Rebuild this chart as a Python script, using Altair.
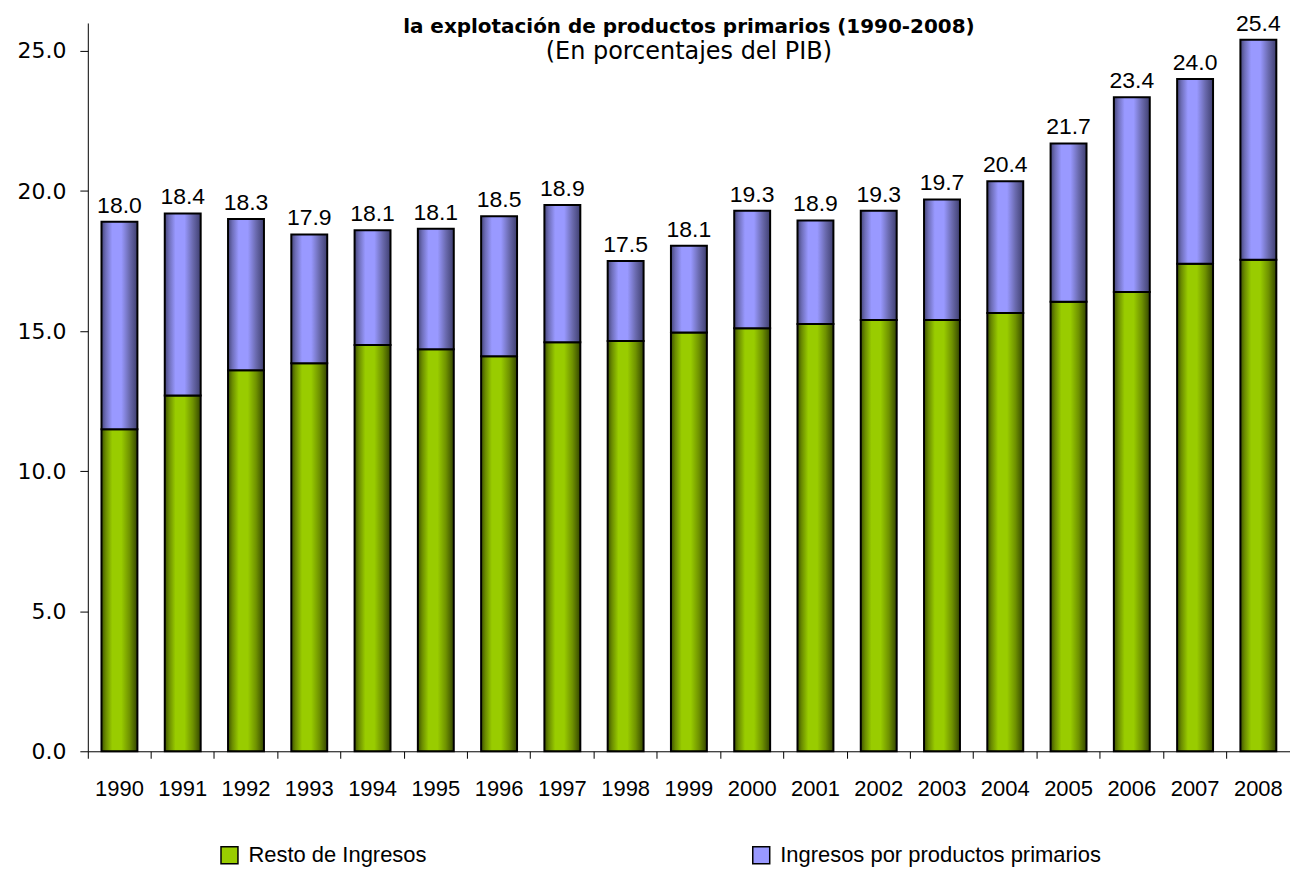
import altair as alt
import pandas as pd

years = [str(y) for y in range(1990, 2009)]
resto = [11.5, 12.7, 13.6, 13.85, 14.5, 14.35, 14.1, 14.6, 14.65, 14.95,
         15.1, 15.25, 15.4, 15.4, 15.65, 16.05, 16.4, 17.4, 17.55]
primarios = [7.4, 6.5, 5.4, 4.6, 4.1, 4.3, 5.0, 4.9, 2.85, 3.1,
             4.2, 3.7, 3.9, 4.3, 4.7, 5.65, 6.95, 6.6, 7.85]
etiquetas = [18.0, 18.4, 18.3, 17.9, 18.1, 18.1, 18.5, 18.9, 17.5, 18.1,
             19.3, 18.9, 19.3, 19.7, 20.4, 21.7, 23.4, 24.0, 25.4]
series = ["Resto de Ingresos", "Ingresos por productos primarios"]
colores = ["#99cc00", "#9999ff"]

df = pd.DataFrame({"year": years, "resto": resto, "prim": primarios, "label": etiquetas})
legend_df = pd.DataFrame({"serie": series})


def grad(edge_l, mid_l, center, mid_r, edge_r):
    return alt.Gradient(
        gradient="linear", x1=0, x2=1, y1=0, y2=0,
        stops=[
            alt.GradientStop(offset=0, color=edge_l),
            alt.GradientStop(offset=0.12, color=mid_l),
            alt.GradientStop(offset=0.3, color=center),
            alt.GradientStop(offset=0.55, color=center),
            alt.GradientStop(offset=0.78, color=mid_r),
            alt.GradientStop(offset=1, color=edge_r),
        ],
    )


green_grad = grad("#3d5200", "#6b8c00", "#99cc00", "#6f9200", "#344600")
purple_grad = grad("#45457a", "#6e6eb8", "#9999ff", "#6a6aae", "#3f3f70")

yscale = alt.Scale(domain=[0, 26], nice=False, zero=True)
yaxis = alt.Axis(values=[0, 5, 10, 15, 20, 25], format=".1f", grid=False,
                 domainColor="black", tickColor="black", tickSize=8,
                 labelPadding=14, labelFont="DejaVu Sans", labelFontSize=22,
                 labelColor="black", title=None)
xaxis = alt.Axis(labelAngle=0, bandPosition=0, tickSize=7, labelPadding=20,
                 domainColor="black", tickColor="black", labelFont="Liberation Sans",
                 labelFontSize=22, labelColor="black", title=None, grid=False)

base = alt.Chart(df).encode(
    x=alt.X("year:N", scale=alt.Scale(paddingInner=0, paddingOuter=0), axis=xaxis)
).transform_calculate(total="datum.resto + datum.prim")

green = base.mark_bar(size=36, color=green_grad, stroke="black", strokeWidth=2).encode(
    y=alt.Y("resto:Q", scale=yscale, axis=yaxis)
)
purple = base.mark_bar(size=36, color=purple_grad, stroke="black", strokeWidth=2).encode(
    y=alt.Y("resto:Q", scale=yscale, axis=yaxis), y2="total:Q"
)
labels = base.mark_text(dy=-9, baseline="alphabetic", fontSize=23,
                        font="Liberation Sans", color="black").encode(
    y=alt.Y("total:Q", scale=yscale, axis=yaxis),
    text=alt.Text("label:Q", format=".1f"),
)

legend_layer = alt.Chart(legend_df).mark_point(size=0, filled=True, stroke="black",
                                              strokeWidth=1.5).encode(
    color=alt.Color("serie:N", scale=alt.Scale(domain=series, range=colores),
                    sort=series,
                    legend=alt.Legend(orient="none", legendX=131, legendY=823,
                                      direction="horizontal", title=None,
                                      symbolType="square", symbolSize=289,
                                      symbolStrokeColor="black", symbolStrokeWidth=1.5,
                                      symbolOpacity=1, labelFont="Liberation Sans",
                                      labelFontSize=22, labelColor="black",
                                      labelOffset=8, columnPadding=323, padding=0,
                                      labelLimit=400))
)

chart = alt.layer(green, purple, labels, legend_layer).properties(
    width=1205,
    height=730,
    autosize=alt.AutoSizeParams(type="none"),
    padding={"left": 80, "top": 14, "right": 0, "bottom": 116},
    title=alt.TitleParams(
        text="la explotación de productos primarios (1990-2008)",
        subtitle="(En porcentajes del PIB)",
        font="DejaVu Sans", fontSize=20, fontWeight="bold", color="black",
        subtitleFont="DejaVu Sans", subtitleFontSize=24, subtitleColor="black",
        anchor="middle", frame="group", offset=-51, subtitlePadding=3,
    ),
).configure_view(stroke=None)

chart.save("out.html", embed_options={"renderer": "svg", "actions": False})
